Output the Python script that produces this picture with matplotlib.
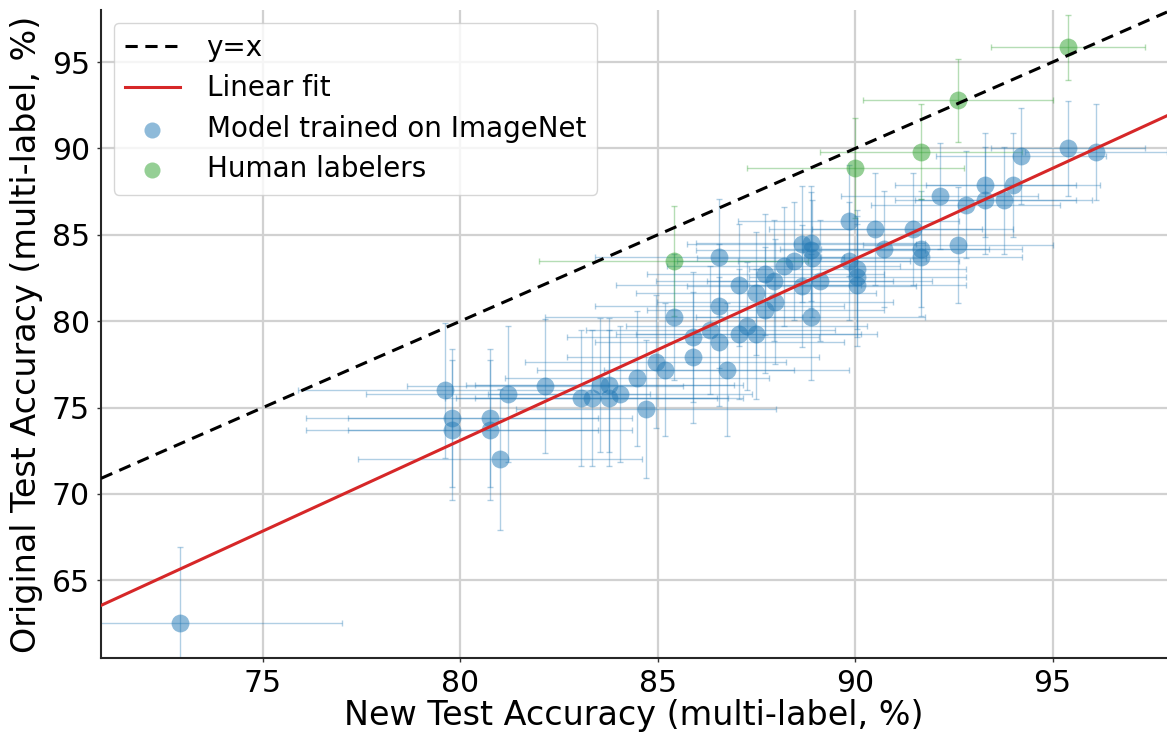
import numpy as np
import matplotlib
matplotlib.use("Agg")
import matplotlib.pyplot as plt

# ---- data ----
model_new = [72.9, 79.6, 79.8, 79.8, 80.75, 80.75, 81.0, 81.2, 82.15, 83.05,
             83.33, 83.54, 83.77, 83.77, 84.05, 84.48, 84.7, 84.95, 85.19, 85.4,
             85.89, 85.89, 86.33, 86.56, 86.56, 86.56, 86.75, 87.05, 87.05, 87.25,
             87.49, 87.5, 87.72, 87.72, 87.95, 87.97, 88.19, 88.44, 88.65, 88.65,
             88.88, 88.88, 88.9, 88.88, 89.1, 89.84, 89.84, 90.05, 90.05, 90.05,
             90.51, 90.74, 91.46, 91.68, 91.68, 92.14, 92.6, 92.8, 93.3, 93.3,
             93.76, 94.0, 94.2, 95.4, 96.1]
model_orig = [62.5, 76.0, 74.4, 73.7, 74.4, 73.7, 72.0, 75.8, 76.25, 75.55,
              75.55, 76.3, 76.3, 75.55, 75.8, 76.7, 74.9, 77.65, 77.18, 80.23,
              79.07, 77.9, 79.5, 80.88, 78.82, 83.7, 77.18, 82.1, 79.26, 79.72,
              81.62, 79.26, 82.72, 80.65, 82.35, 81.13, 83.19, 83.48, 84.45, 82.04,
              84.5, 84.12, 83.64, 80.23, 82.34, 85.82, 83.48, 83.0, 82.58, 82.1,
              85.34, 84.18, 85.34, 84.18, 83.7, 87.25, 84.41, 86.75, 87.9, 87.0,
              87.0, 87.9, 89.56, 90.0, 89.8]
model_xerr = [4.1, 3.7, 3.7, 3.7, 3.6, 3.6, 3.6, 3.6, 3.5, 3.45,
              3.45, 3.4, 3.4, 3.4, 3.35, 3.35, 3.3, 3.3, 3.25, 3.25,
              3.2, 3.2, 3.15, 3.15, 3.15, 3.15, 3.1, 3.1, 3.1, 3.05,
              3.05, 3.05, 3.0, 3.0, 3.0, 3.0, 2.95, 2.95, 2.9, 2.9,
              2.9, 2.9, 2.9, 2.9, 2.85, 2.8, 2.8, 2.75, 2.75, 2.75,
              2.7, 2.65, 2.55, 2.55, 2.55, 2.5, 2.4, 2.4, 2.3, 2.3,
              2.25, 2.2, 2.15, 1.95, 1.8]
model_yerr = [4.45, 3.9, 4.0, 4.05, 4.0, 4.05, 4.1, 3.95, 3.9, 3.95,
              3.95, 3.9, 3.9, 3.95, 3.95, 3.9, 4.0, 3.85, 3.85, 3.65,
              3.75, 3.8, 3.7, 3.6, 3.75, 3.4, 3.85, 3.55, 3.75, 3.7,
              3.55, 3.75, 3.5, 3.65, 3.5, 3.6, 3.45, 3.4, 3.35, 3.55,
              3.35, 3.35, 3.4, 3.65, 3.5, 3.2, 3.4, 3.45, 3.5, 3.55,
              3.25, 3.35, 3.25, 3.35, 3.4, 3.05, 3.35, 3.1, 3.0, 3.1,
              3.1, 3.0, 2.8, 2.75, 2.8]

human_new = [85.4, 90.0, 91.67, 92.6, 95.39]
human_orig = [83.48, 88.85, 89.8, 92.8, 95.85]
human_xerr = [3.4, 2.75, 2.55, 2.4, 1.95]
human_yerr = [3.2, 2.9, 2.75, 2.4, 1.9]

fit_slope = 1.05
fit_intercept = -10.9

x_limits = [70.9, 97.9]
y_limits = [60.5, 98.0]
x_ticks = [75, 80, 85, 90, 95]
y_ticks = [65, 70, 75, 80, 85, 90, 95]

blue = "#1f77b4"
green = "#2ca02c"
red = "#d62728"

fig = plt.figure(figsize=(11.67, 7.36), dpi=100)
ax = fig.add_axes([0.0866, 0.106, 0.9134, 0.880])

xs = np.array(x_limits)
ax.plot(xs, xs, ls="--", color="black", lw=2.2, dashes=(4, 2.5), label="y=x", zorder=4)
ax.plot(xs, fit_slope * xs + fit_intercept, color=red, lw=2.2, label="Linear fit", zorder=4)

ax.errorbar(model_new, model_orig, xerr=model_xerr, yerr=model_yerr, fmt="none",
            ecolor=blue, alpha=0.35, elinewidth=1.0, capsize=2.5, capthick=1.0, zorder=2)
ax.errorbar(human_new, human_orig, xerr=human_xerr, yerr=human_yerr, fmt="none",
            ecolor=green, alpha=0.35, elinewidth=1.0, capsize=2.5, capthick=1.0, zorder=2)
ax.scatter(model_new, model_orig, s=165, color=blue, alpha=0.5, linewidths=0,
           label="Model trained on ImageNet", zorder=3)
ax.scatter(human_new, human_orig, s=165, color=green, alpha=0.5, linewidths=0,
           label="Human labelers", zorder=3)

ax.set_xlim(x_limits)
ax.set_ylim(y_limits)
ax.set_xticks(x_ticks)
ax.set_yticks(y_ticks)
ax.tick_params(labelsize=21.5, length=3, width=1, color="0.2", pad=5)
ax.grid(True, color="0.82", lw=1.6)
ax.set_axisbelow(True)
for s in ["top", "right"]:
    ax.spines[s].set_visible(False)
for s in ["left", "bottom"]:
    ax.spines[s].set_color("0.15")
    ax.spines[s].set_linewidth(1.5)

ax.set_xlabel("New Test Accuracy (multi-label, %)", fontsize=24, labelpad=1)
ax.set_ylabel("Original Test Accuracy (multi-label, %)", fontsize=24, labelpad=6)

leg = ax.legend(loc="upper left", fontsize=20, frameon=True, fancybox=True,
                borderaxespad=0.45, handlelength=2.0, markerscale=0.9,
                labelspacing=0.45, handletextpad=0.95)
leg.get_frame().set_edgecolor("0.8")

fig.savefig("out.png", dpi=100)
